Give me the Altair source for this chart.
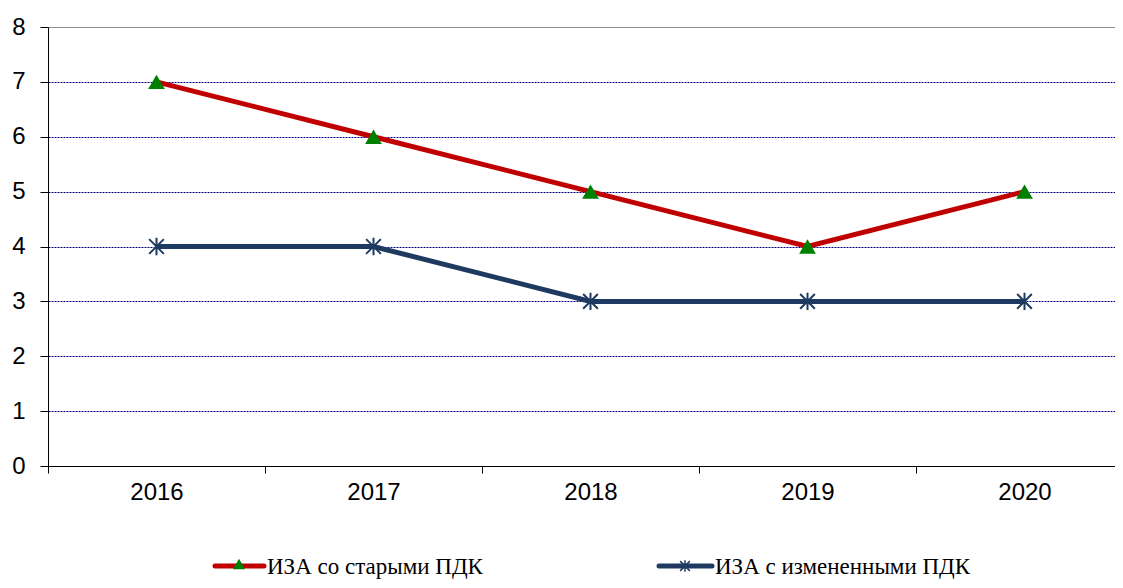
import altair as alt
import pandas as pd

years = ["2016", "2017", "2018", "2019", "2020"]
old_pdk = [7, 6, 5, 4, 5]
new_pdk = [4, 4, 3, 3, 3]
series_names = ["ИЗА со старыми ПДК", "ИЗА с измененными ПДК"]
colors = ["#C00000", "#1F3A60"]

df = pd.DataFrame({
    "year": years * 2,
    "value": old_pdk + new_pdk,
    "series": [series_names[0]] * 5 + [series_names[1]] * 5,
})

asterisk = "M0,-1L0,1M-0.85,-0.85L0.85,0.85M-0.85,0.85L0.85,-0.85"

x = alt.X("year:N", title=None,
          scale=alt.Scale(range=[0, 1085], paddingInner=0, paddingOuter=0),
          axis=alt.Axis(labelAngle=0, tickBand="extent", grid=False,
                        domainColor="#000000", tickColor="#000000",
                        tickSize=7, labelPadding=7, labelFontSize=24,
                        labelFont="Liberation Sans", labelColor="#000000"))
y = alt.Y("value:Q", title=None,
          scale=alt.Scale(domain=[0, 8], nice=False),
          axis=alt.Axis(values=list(range(9)), tickSize=8, labelPadding=15,
                        labelFontSize=24, labelFont="Liberation Sans",
                        labelColor="#000000", domainColor="#000000",
                        tickColor="#000000",
                        gridColor={"condition": {"test": "datum.value == 8", "value": "#909090"}, "value": "#000080"},
                        gridDash={"condition": {"test": "datum.value == 8", "value": []}, "value": [2, 1]},
                        gridWidth=1, gridOpacity=1))
color = alt.Color("series:N", scale=alt.Scale(domain=series_names, range=colors), legend=None)

base = alt.Chart(df)
lines = base.mark_line(strokeWidth=5).encode(x=x, y=y, color=color)
tri = base.transform_filter(alt.datum.series == series_names[0]).mark_point(
    shape="triangle-up", filled=True, color="#008000", size=280, opacity=1
).encode(x=x, y=y)
ast = base.transform_filter(alt.datum.series == series_names[1]).mark_point(
    shape=asterisk, filled=False, color="#1F3A60", size=300, strokeWidth=2, opacity=1
).encode(x=x, y=y)

one = pd.DataFrame({"a": [0]})
leg_y = 539

def legend_item(x0, x1, xm, xt, col, shape, fill, label, size, sw):
    line = alt.Chart(one).mark_rule(color=col, strokeWidth=5, strokeCap="round").encode(
        x=alt.value(x0), x2=alt.value(x1), y=alt.value(leg_y))
    if fill:
        pt = alt.Chart(one).mark_point(shape=shape, filled=True, color=fill, size=size, opacity=1).encode(
            x=alt.value(xm), y=alt.value(leg_y - 2))
    else:
        pt = alt.Chart(one).mark_point(shape=shape, filled=False, color=col, size=size, strokeWidth=sw, opacity=1).encode(
            x=alt.value(xm), y=alt.value(leg_y))
    txt = alt.Chart(one).mark_text(align="left", baseline="alphabetic", font="Liberation Serif",
                                   fontSize=23, color="#000000").encode(
        x=alt.value(xt), y=alt.value(leg_y + 8), text=alt.value(label))
    return [line, pt, txt]

leg = legend_item(167, 216, 191, 219, colors[0], "triangle-up", "#008000", series_names[0], 150, 1) + \
      legend_item(611, 664, 637, 667, colors[1], asterisk, None, series_names[1], 130, 1.5)

chart = alt.layer(lines, tri, ast, *leg).properties(
    width=1067, height=439,
    autosize=alt.AutoSizeParams(type="none"),
    padding={"left": 40, "top": 19, "right": 0, "bottom": 114},
).configure_view(stroke=None).configure(background="white")

chart.save("out.html", embed_options={"renderer": "svg", "actions": False})
